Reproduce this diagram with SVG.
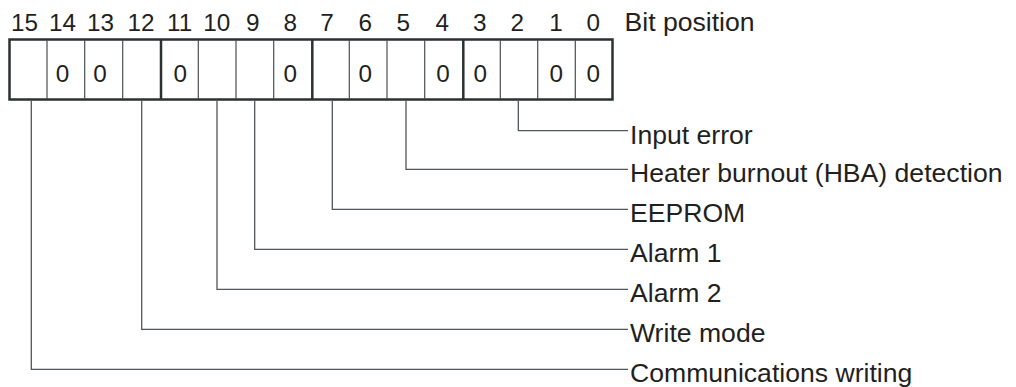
<svg xmlns="http://www.w3.org/2000/svg" width="1016" height="387" viewBox="0 0 1016 387">
<style>
  text { font-family: "Liberation Sans", Arial, sans-serif; fill: #231f20; }
  .bitno { font-size: 24.3px; text-anchor: middle; }
  .zero { font-size: 24.3px; text-anchor: middle; }
  .label { font-size: 26.6px; }
  .frame { fill: #ffffff; stroke: #2b3033; stroke-width: 2.5; }
  .thin { stroke: #4a4f52; stroke-width: 1.2; }
  .thick { stroke: #2b3033; stroke-width: 2.5; }
  .leader { fill: none; stroke: #50565a; stroke-width: 1.3; }
</style>
<rect width="1016" height="387" fill="#ffffff"/>
<g id="bit-numbers">
  <text class="bitno" x="24.5" y="30.7">15</text>
  <text class="bitno" x="62.5" y="30.7">14</text>
  <text class="bitno" x="100.6" y="30.7">13</text>
  <text class="bitno" x="141" y="30.7">12</text>
  <text class="bitno" x="179.6" y="30.7">11</text>
  <text class="bitno" x="216.8" y="30.7">10</text>
  <text class="bitno" x="252.8" y="30.7">9</text>
  <text class="bitno" x="290.3" y="30.7">8</text>
  <text class="bitno" x="327" y="30.7">7</text>
  <text class="bitno" x="365.3" y="30.7">6</text>
  <text class="bitno" x="403.3" y="30.7">5</text>
  <text class="bitno" x="442.2" y="30.7">4</text>
  <text class="bitno" x="479.7" y="30.7">3</text>
  <text class="bitno" x="517.3" y="30.7">2</text>
  <text class="bitno" x="556" y="30.7">1</text>
  <text class="bitno" x="593.3" y="30.7">0</text>
  <text class="label" x="624.5" y="31.2">Bit position</text>
</g>
<g id="register">
  <rect class="frame" x="9.5" y="39.5" width="603" height="60"/>
  <line class="thin" x1="47" y1="40" x2="47" y2="99"/>
  <line class="thin" x1="84.7" y1="40" x2="84.7" y2="99"/>
  <line class="thin" x1="122.7" y1="40" x2="122.7" y2="99"/>
  <line class="thick" x1="161" y1="40" x2="161" y2="99"/>
  <line class="thin" x1="198.3" y1="40" x2="198.3" y2="99"/>
  <line class="thin" x1="236" y1="40" x2="236" y2="99"/>
  <line class="thin" x1="273.7" y1="40" x2="273.7" y2="99"/>
  <line class="thick" x1="312.3" y1="40" x2="312.3" y2="99"/>
  <line class="thin" x1="349.3" y1="40" x2="349.3" y2="99"/>
  <line class="thin" x1="387" y1="40" x2="387" y2="99"/>
  <line class="thin" x1="424.7" y1="40" x2="424.7" y2="99"/>
  <line class="thick" x1="463.3" y1="40" x2="463.3" y2="99"/>
  <line class="thin" x1="500.3" y1="40" x2="500.3" y2="99"/>
  <line class="thin" x1="537.7" y1="40" x2="537.7" y2="99"/>
  <line class="thin" x1="575.3" y1="40" x2="575.3" y2="99"/>
  <text class="zero" x="62.5" y="81.5">0</text>
  <text class="zero" x="100" y="81.5">0</text>
  <text class="zero" x="180.3" y="81.5">0</text>
  <text class="zero" x="290.3" y="81.5">0</text>
  <text class="zero" x="365.3" y="81.5">0</text>
  <text class="zero" x="443" y="81.5">0</text>
  <text class="zero" x="480.3" y="81.5">0</text>
  <text class="zero" x="556.3" y="81.5">0</text>
  <text class="zero" x="593.3" y="81.5">0</text>
</g>
<g id="connectors">
  <polyline class="leader" points="518.3,100.8 518.3,130.7 628,130.7"/>
  <polyline class="leader" points="406,100.8 406,169.3 628,169.3"/>
  <polyline class="leader" points="332.3,100.8 332.3,209.3 628,209.3"/>
  <polyline class="leader" points="254.7,100.8 254.7,249.3 628,249.3"/>
  <polyline class="leader" points="217,100.8 217,289.3 628,289.3"/>
  <polyline class="leader" points="141.7,100.8 141.7,329.3 628,329.3"/>
  <polyline class="leader" points="31.3,100.8 31.3,369.3 628,369.3"/>
</g>
<g id="label-input-error"><text class="label" x="630" y="143.7">Input error</text></g>
<g id="label-heater"><text class="label" x="630" y="182.3">Heater burnout (HBA) detection</text></g>
<g id="label-eeprom"><text class="label" x="630" y="222.3">EEPROM</text></g>
<g id="label-alarm1"><text class="label" x="630" y="262.3">Alarm 1</text></g>
<g id="label-alarm2"><text class="label" x="630" y="302.3">Alarm 2</text></g>
<g id="label-write-mode"><text class="label" x="630" y="342.3">Write mode</text></g>
<g id="label-comm-writing"><text class="label" x="630" y="382.3">Communications writing</text></g>
</svg>
